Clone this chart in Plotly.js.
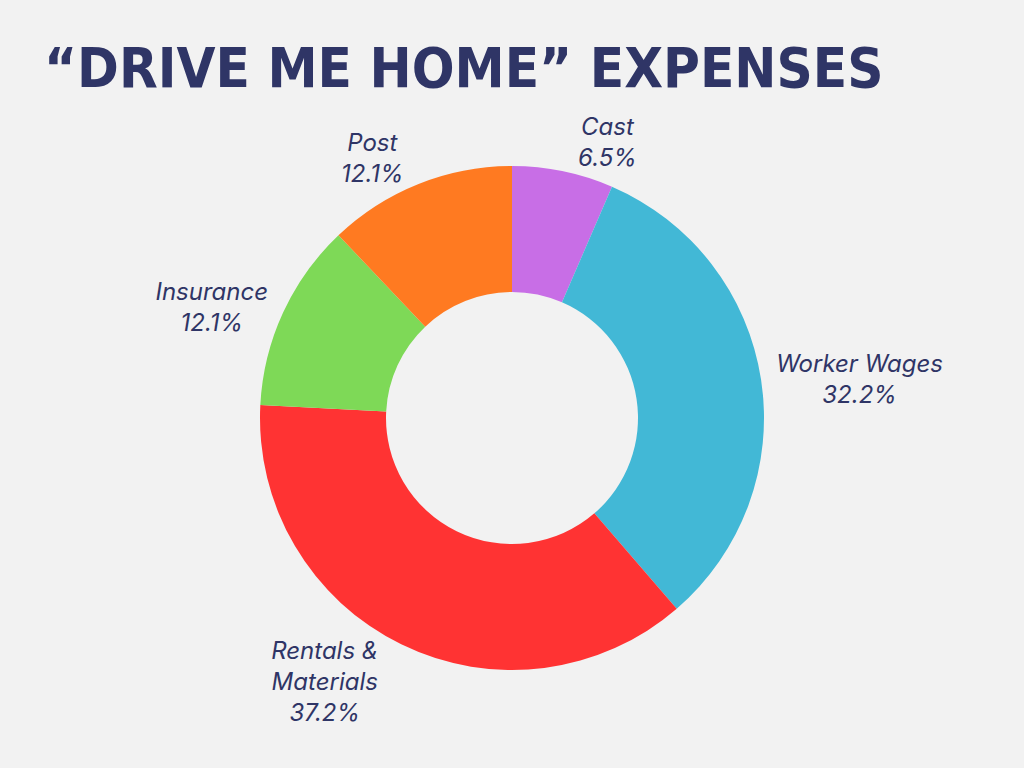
<!DOCTYPE html>
<html>
<head>
<meta charset="utf-8">
<script src="https://cdn.plot.ly/plotly-3.0.1.min.js"></script>
<style>html,body{margin:0;padding:0;background:#f2f2f2;}#chart{width:1024px;height:768px;}</style>
</head>
<body>
<div id="chart"></div>
<script>
const categories = ["Cast", "Worker Wages", "Rentals &<br>Materials", "Insurance", "Post"];
const shares = [6.5, 32.2, 37.2, 12.1, 12.1];
const sliceColors = ["#c86ee6", "#42b8d6", "#ff3333", "#7ed957", "#ff7a21"];
const chartTitle = "“DRIVE ME HOME” EXPENSES";

const trace = {
  type: "pie",
  labels: categories,
  values: shares,
  hole: 0.5,
  sort: false,
  direction: "clockwise",
  rotation: 0,
  marker: { colors: sliceColors, line: { width: 0 } },
  textposition: "outside",
  texttemplate: "%{label}<br>%{percent:.1%}",
  textfont: { family: "Inter, sans-serif", size: 24, color: "#2f3566", style: "italic" },
  automargin: false,
  hoverinfo: "label+percent"
};

const layout = {
  width: 1024,
  height: 768,
  paper_bgcolor: "#f2f2f2",
  plot_bgcolor: "#f2f2f2",
  showlegend: false,
  margin: { l: 0, r: 0, t: 166, b: 98 },
  title: {
    text: "<b>" + chartTitle + "</b>",
    font: { family: "DejaVu Sans Condensed, sans-serif", size: 56, color: "#2f3566" },
    x: 44 / 1024,
    xanchor: "left",
    xref: "container",
    y: 1 - 67 / 768,
    yanchor: "middle",
    yref: "container"
  }
};

Plotly.newPlot("chart", [trace], layout, { displayModeBar: false, staticPlot: true });
</script>
</body>
</html>
